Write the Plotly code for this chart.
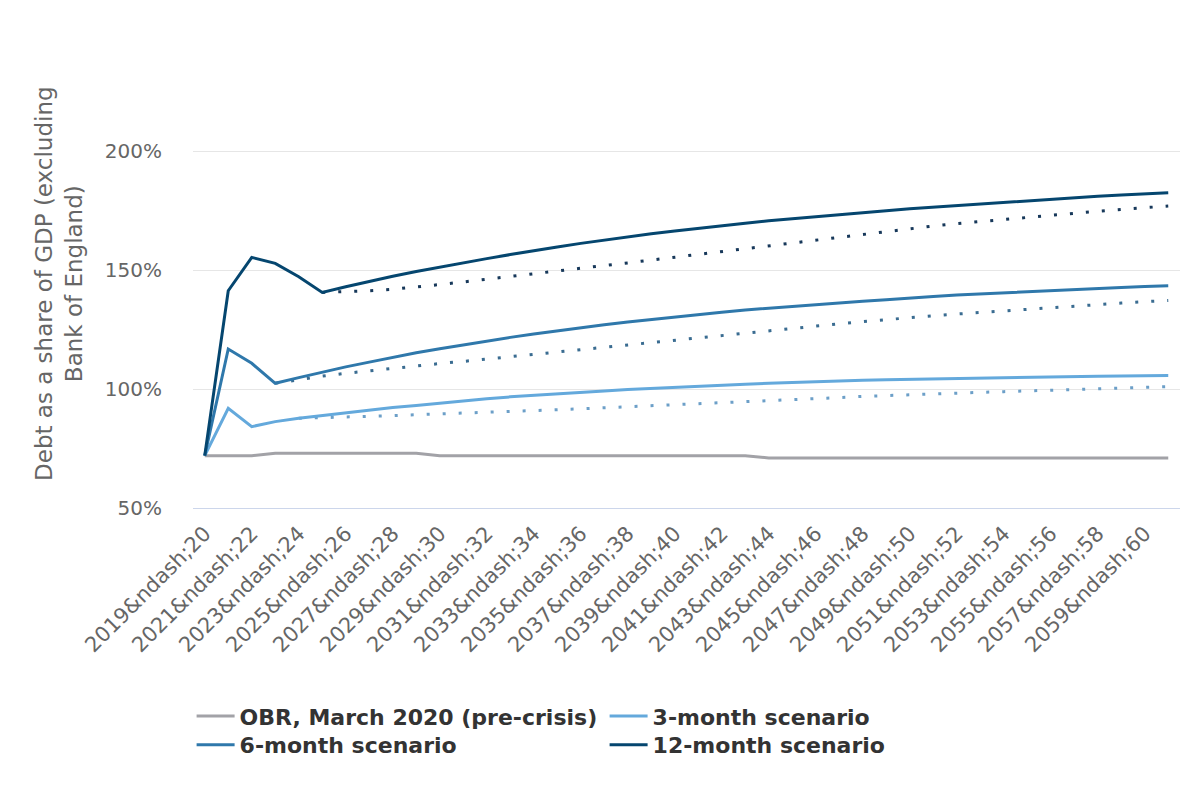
import plotly.graph_objects as go

categories = [
    "2019&ndash;20", "2020&ndash;21", "2021&ndash;22", "2022&ndash;23", "2023&ndash;24",
    "2024&ndash;25", "2025&ndash;26", "2026&ndash;27", "2027&ndash;28", "2028&ndash;29",
    "2029&ndash;30", "2030&ndash;31", "2031&ndash;32", "2032&ndash;33", "2033&ndash;34",
    "2034&ndash;35", "2035&ndash;36", "2036&ndash;37", "2037&ndash;38", "2038&ndash;39",
    "2039&ndash;40", "2040&ndash;41", "2041&ndash;42", "2042&ndash;43", "2043&ndash;44",
    "2044&ndash;45", "2045&ndash;46", "2046&ndash;47", "2047&ndash;48", "2048&ndash;49",
    "2049&ndash;50", "2050&ndash;51", "2051&ndash;52", "2052&ndash;53", "2053&ndash;54",
    "2054&ndash;55", "2055&ndash;56", "2056&ndash;57", "2057&ndash;58", "2058&ndash;59",
    "2059&ndash;60", "2060&ndash;61",
]

obr_march_2020 = [
    72, 72, 72, 73, 73, 73, 73, 73, 73, 73,
    72, 72, 72, 72, 72, 72, 72, 72, 72, 72, 72, 72, 72, 72,
    71, 71, 71, 71, 71, 71, 71, 71, 71, 71, 71, 71, 71, 71, 71, 71, 71, 71,
]

three_month = [
    72, 91.9, 84.2, 86.3, 87.7, 88.9, 90.1, 91.2, 92.2, 93.1,
    94.1, 95.0, 95.9, 96.7, 97.4, 98.0, 98.7, 99.2, 99.8, 100.3,
    100.8, 101.2, 101.6, 102.0, 102.4, 102.8, 103.1, 103.4, 103.7, 103.9,
    104.1, 104.3, 104.5, 104.7, 104.9, 105.0, 105.2, 105.3, 105.4, 105.5,
    105.6, 105.7,
]
three_month_alt_start = 4
three_month_alt = [
    87.7, 87.9, 88.2, 88.5, 88.8, 89.2, 89.5, 89.9, 90.2, 90.6,
    91.0, 91.3, 91.7, 92.1, 92.5, 92.9, 93.4, 93.8, 94.2, 94.7,
    95.1, 95.5, 96.0, 96.4, 96.9, 97.3, 97.6, 97.9, 98.3, 98.6,
    98.9, 99.2, 99.5, 99.8, 100.1, 100.4, 100.7, 101.0,
]

six_month = [
    72, 116.8, 110.8, 102.4, 104.8, 107.1, 109.3, 111.3, 113.3, 115.2,
    116.9, 118.6, 120.2, 121.7, 123.1, 124.5, 125.8, 127.0, 128.2, 129.3,
    130.3, 131.3, 132.3, 133.2, 134.0, 134.8, 135.6, 136.3, 136.9, 137.5,
    138.3, 138.9, 139.5, 140.0, 140.5, 141.0, 141.4, 141.9, 142.3, 142.7,
    143.1, 143.4,
]
six_month_alt_start = 3
six_month_alt = [
    102.4, 104.0, 105.4, 106.6, 107.7, 108.7, 109.7, 110.7, 111.6, 112.6,
    113.6, 114.6, 115.6, 116.6, 117.6, 118.7, 119.7, 120.7, 121.7, 122.7,
    123.7, 124.6, 125.6, 126.5, 127.4, 128.3, 129.2, 130.0, 130.8, 131.5,
    132.2, 132.9, 133.5, 134.2, 134.8, 135.5, 136.1, 136.7, 137.2,
]

twelve_month = [
    72, 141.3, 155.3, 152.8, 147.2, 140.6, 143.0, 145.3, 147.4, 149.4,
    151.3, 153.1, 154.8, 156.5, 158.2, 159.7, 161.2, 162.6, 163.9, 165.2,
    166.4, 167.6, 168.7, 169.7, 170.7, 171.6, 172.5, 173.3, 174.1, 174.9,
    175.7, 176.4, 177.1, 177.8, 178.5, 179.1, 179.8, 180.4, 181.0, 181.5,
    182.0, 182.5,
]
twelve_month_alt_start = 5
twelve_month_alt = [
    140.6, 140.9, 141.3, 141.9, 142.8, 143.9, 145.0, 146.2, 147.3, 148.4,
    149.6, 150.8, 151.9, 153.0, 154.2, 155.6, 156.8, 158.0, 159.2, 160.4,
    161.6, 162.7, 163.9, 165.0, 166.2, 167.4, 168.5, 169.5, 170.4, 171.3,
    172.2, 173.1, 173.9, 174.7, 175.5, 176.2, 176.9,
]

series_names = ["OBR, March 2020 (pre-crisis)", "3-month scenario",
                "6-month scenario", "12-month scenario"]
y_ticks = [50, 100, 150, 200]
y_tick_labels = ["50%", "100%", "150%", "200%"]
y_title = "Debt as a share of GDP (excluding<br>Bank of England)"

GREY = "#a2a2a7"
C3 = "#64a9dc"
C6 = "#2f78ab"
C12 = "#05466f"
C3D = "#6c9fc8"
C6D = "#3a6c91"
C12D = "#17385a"

fig = go.Figure()

DOT = "3px,13px"
fig.add_trace(go.Scatter(x=categories[three_month_alt_start:], y=three_month_alt, mode="lines",
                         line=dict(color=C3D, width=3, dash=DOT), showlegend=False, hoverinfo="skip"))
fig.add_trace(go.Scatter(x=categories[six_month_alt_start:], y=six_month_alt, mode="lines",
                         line=dict(color=C6D, width=3, dash=DOT), showlegend=False, hoverinfo="skip"))
fig.add_trace(go.Scatter(x=categories[twelve_month_alt_start:], y=twelve_month_alt, mode="lines",
                         line=dict(color=C12D, width=3, dash=DOT), showlegend=False, hoverinfo="skip"))

legend_rows = ["legend", "legend", "legend2", "legend2"]
for name, vals, col, lg in zip(series_names,
                               [obr_march_2020, three_month, six_month, twelve_month],
                               [GREY, C3, C6, C12], legend_rows):
    fig.add_trace(go.Scatter(x=categories, y=vals, name=name, mode="lines",
                             line=dict(color=col, width=3), legend=lg))

legend_common = dict(
    orientation="h", xref="container", yref="container",
    x=0.153, xanchor="left", yanchor="top",
    entrywidth=360, entrywidthmode="pixels",
    font=dict(family="DejaVu Sans", size=22, color="#333333", weight="bold"),
    traceorder="normal", itemwidth=38, bgcolor="rgba(0,0,0,0)",
)

fig.update_layout(
    width=1200, height=800,
    margin=dict(l=185, r=28, t=50, b=300, autoexpand=False),
    paper_bgcolor="white", plot_bgcolor="white",
    font=dict(family="DejaVu Sans", color="#666666", size=20),
    legend=dict(legend_common, y=0.141),
    legend2=dict(legend_common, y=0.105),
    xaxis=dict(
        type="category", categoryorder="array", categoryarray=categories,
        range=[-0.5, len(categories) - 0.5], automargin=False,
        tickmode="array", tickvals=categories[::2], ticktext=categories[::2],
        tickangle=-45, tickfont=dict(size=21, color="#666666"),
        ticks="outside", ticklen=4, tickcolor="rgba(0,0,0,0)",
        showgrid=False, showline=True, linecolor="#ccd6eb", linewidth=1,
        zeroline=False,
    ),
    yaxis=dict(
        range=[50, 239.1], automargin=False,
        tickmode="array", tickvals=y_ticks, ticktext=y_tick_labels,
        tickfont=dict(size=20, color="#666666"),
        ticks="outside", ticklen=26, tickcolor="rgba(0,0,0,0)",
        showgrid=True, gridcolor="#e6e6e6", gridwidth=1,
        zeroline=False, showline=False,
    ),
    annotations=[dict(
        text=y_title, textangle=-90, xref="paper", yref="paper",
        x=-0.1358, y=0.5, xanchor="center", yanchor="middle", showarrow=False,
        font=dict(family="DejaVu Sans", size=23, color="#666666"), align="center",
    )],
)

fig.write_html("out.html")
